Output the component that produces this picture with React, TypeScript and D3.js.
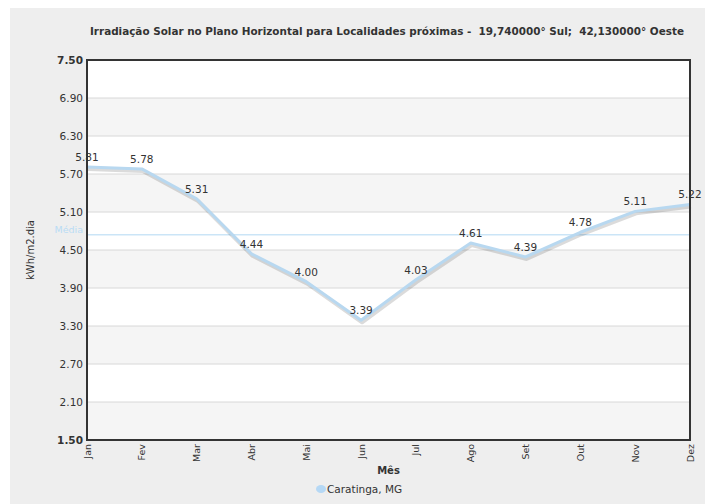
import React from "react";
import * as d3 from "d3";

const months = ["Jan", "Fev", "Mar", "Abr", "Mai", "Jun", "Jul", "Ago", "Set", "Out", "Nov", "Dez"];
const values = [5.81, 5.78, 5.31, 4.44, 4.0, 3.39, 4.03, 4.61, 4.39, 4.78, 5.11, 5.22];
const yTicks = [1.5, 2.1, 2.7, 3.3, 3.9, 4.5, 5.1, 5.7, 6.3, 6.9, 7.5];
const seriesName = "Caratinga, MG";
const title = "Irradiação Solar no Plano Horizontal para Localidades próximas -  19,740000° Sul;  42,130000° Oeste";

const W = 713, H = 504;
const OX = 8, OY = 8; // body margin
const L = 87, R = 690, T = 60, B = 440;
const FONT = "DejaVu Sans, Verdana, sans-serif";

export default function App() {
  const x = d3.scalePoint<string>().domain(months).range([L - OX, R - OX]);
  const y = d3.scaleLinear().domain([1.5, 7.5]).range([B - OY, T - OY]);
  const mean = d3.mean(values) as number;
  const line = d3
    .line<number>()
    .x((_, i) => x(months[i]) as number)
    .y((d) => y(d));
  const bands = yTicks.slice(0, -1).map((t, i) => ({ lo: t, hi: yTicks[i + 1], gray: i % 2 === 0 }));

  return (
    <svg width={W - OX} height={H - OY} style={{ display: "block" }} fontFamily={FONT}>
      <rect x={2} y={0} width={W} height={H} fill="#eeeeee" />
      <text
        x={(90 + 684) / 2 - OX}
        y={35 - OY}
        textAnchor="middle"
        fontSize={10.5}
        fontWeight="bold"
        fill="#333"
        textLength={594}
        lengthAdjust="spacingAndGlyphs"
        style={{ whiteSpace: "pre" }}
      >
        {title}
      </text>
      {bands.map((b, i) => (
        <rect
          key={i}
          x={L - OX}
          y={y(b.hi)}
          width={R - L}
          height={y(b.lo) - y(b.hi)}
          fill={b.gray ? "#f5f5f5" : "#ffffff"}
        />
      ))}
      {yTicks.map((t, i) => (
        <g key={i}>
          <line x1={L - OX} x2={R - OX} y1={y(t)} y2={y(t)} stroke="#d8d8d8" strokeWidth={1} />
          <text
            x={L - OX - 4}
            y={y(t)}
            dy="0.35em"
            textAnchor="end"
            fontSize={10.5}
            fontWeight={i === 0 || i === yTicks.length - 1 ? "bold" : "normal"}
            fill="#333"
          >
            {t.toFixed(2)}
          </text>
        </g>
      ))}
      <line x1={L - OX} x2={R - OX} y1={y(mean)} y2={y(mean)} stroke="#cbe5f7" strokeWidth={1.5} />
      <text x={L - OX - 4} y={y(mean) - 2} textAnchor="end" fontSize={9.5} fill="#b9dcf5">
        Média
      </text>
      <path d={line(values) || ""} fill="none" stroke="rgba(0,0,0,0.14)" strokeWidth={4} transform="translate(1,2)" strokeLinejoin="round" />
      <path d={line(values) || ""} fill="none" stroke="#b8d8f0" strokeWidth={3} strokeLinejoin="round" />
      <rect x={L - OX} y={T - OY} width={R - L} height={B - T} fill="none" stroke="#333" strokeWidth={2} />
      {values.map((v, i) => (
        <text key={i} x={x(months[i]) as number} y={y(v) - 6} textAnchor="middle" fontSize={10.5} fill="#333">
          {v.toFixed(2)}
        </text>
      ))}
      {months.map((m, i) => (
        <text
          key={m}
          transform={`translate(${(x(m) as number) + 3.5},${B - OY + 4}) rotate(-90)`}
          textAnchor="end"
          fontSize={9.5}
          fill="#333"
        >
          {m}
        </text>
      ))}
      <text x={(L + R) / 2 - OX} y={474 - OY} textAnchor="middle" fontSize={10} fontWeight="bold" fill="#333">
        Mês
      </text>
      <text
        transform={`translate(${34 - OX},${(T + B) / 2 - OY}) rotate(-90)`}
        textAnchor="middle"
        fontSize={10}
        fill="#333"
      >
        kWh/m2.dia
      </text>
      <ellipse cx={321 - OX} cy={489 - OY} rx={5} ry={4} fill="#b5d8f5" />
      <text x={327 - OX} y={493 - OY} fontSize={10.5} fill="#333">
        {seriesName}
      </text>
    </svg>
  );
}
